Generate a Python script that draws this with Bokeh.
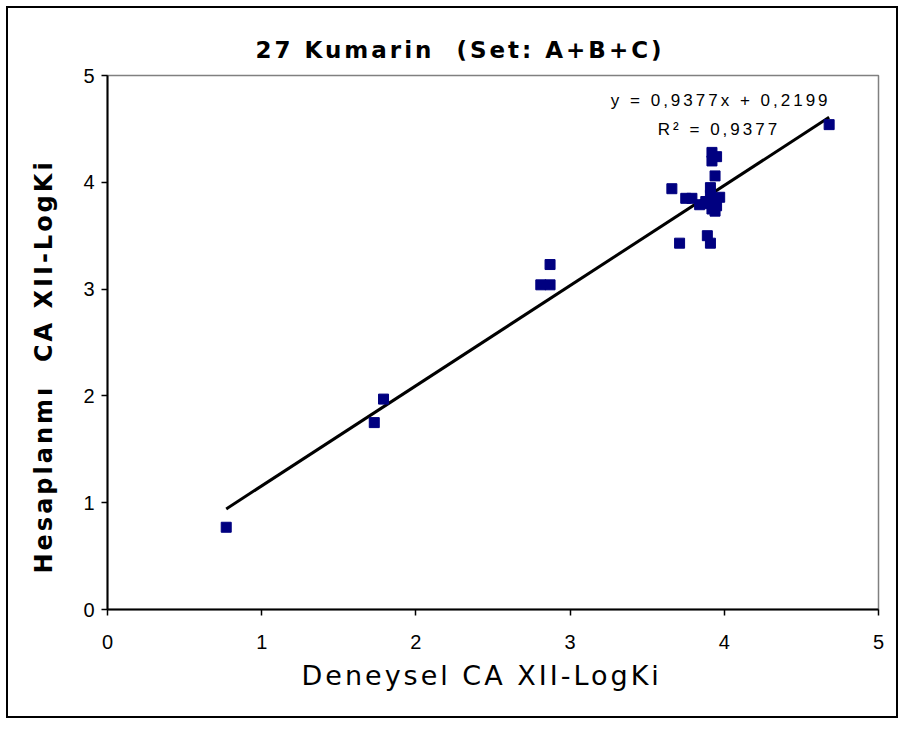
from bokeh.plotting import figure
from bokeh.models import Label, FixedTicker, Title
from bokeh.embed import file_html
from bokeh.resources import INLINE

exp_logki = [0.77, 1.73, 1.79, 2.81, 2.87, 2.87, 3.66, 3.71, 3.75, 3.79,
             3.84, 3.89, 3.91, 3.91, 3.91, 3.92, 3.94, 3.97, 3.94, 3.92,
             3.92, 3.95, 4.68, 3.90, 3.93, 3.88, 3.95]
calc_logki = [0.77, 1.75, 1.97, 3.04, 3.04, 3.23, 3.94, 3.43, 3.85, 3.85,
              3.79, 3.50, 3.43, 3.95, 3.88, 3.75, 3.73, 3.86, 4.06, 4.28,
              4.20, 4.24, 4.54, 3.80, 3.80, 3.82, 3.78]
slope = 0.9377
intercept = 0.2199
r_squared = 0.9377
ticks = [0, 1, 2, 3, 4, 5]

title_text = "27 Kumarin \u00a0(Set: A+B+C)"
x_label = "Deneysel CA XII-LogKi"
y_label = "Hesaplanmı \u00a0CA XII-LogKi"

FONT = "Liberation Sans"
LFONT = "DejaVu Sans"

p = figure(width=892, height=712, x_range=(0, 5), y_range=(0, 5),
           output_backend="svg", toolbar_location=None,
           min_border_left=98, min_border_right=22,
           min_border_top=67, min_border_bottom=111)
p.styles = {"border": "2px solid black", "margin": "6px", "letter-spacing": "3px"}
p.background_fill_color = "white"
p.border_fill_color = "white"
p.outline_line_color = "#808080"
p.outline_line_width = 1.5
p.grid.visible = False

p.title = Title(text=title_text, align="left", offset=148, standoff=26,
                text_font=LFONT, text_font_size="23px", text_font_style="bold",
                text_color="black")

for ax in (p.xaxis[0], p.yaxis[0]):
    ax.ticker = FixedTicker(ticks=ticks)
    ax.minor_tick_line_color = None
    ax.major_tick_out = 6
    ax.major_tick_in = 0
    ax.major_tick_line_color = "black"
    ax.major_tick_line_width = 1.5
    ax.axis_line_color = "black"
    ax.axis_line_width = 2
    ax.major_label_text_font = FONT
    ax.major_label_text_font_size = "20px"
    ax.major_label_text_color = "black"

p.xaxis[0].major_label_standoff = 19
p.yaxis[0].major_label_standoff = 7

# Axis titles (as side titles so that they can be anchored like the original)
p.add_layout(Title(text=x_label, align="left", offset=194, standoff=16,
                   vertical_align="top", text_font=LFONT, text_font_size="27px",
                   text_font_style="normal", text_color="black"), "below")
p.add_layout(Title(text=y_label, align="left", offset=36, standoff=42,
                   vertical_align="top", text_font=LFONT, text_font_size="24px",
                   text_font_style="bold", text_color="black"), "left")

# Regression line from the fitted equation
x0, x1 = min(exp_logki), max(exp_logki)
p.line([x0, x1], [slope * x0 + intercept, slope * x1 + intercept],
       line_color="black", line_width=3)

# Data points
p.scatter(exp_logki, calc_logki, marker="square", size=10,
          fill_color="#000080", line_color="#000080")

eq = "y = " + f"{slope:.4f}".replace(".", ",") + "x + " + f"{intercept:.4f}".replace(".", ",")
r2 = "R² = " + f"{r_squared:.4f}".replace(".", ",")
p.add_layout(Label(x=3.264, y=4.77, text=eq, text_align="left", text_baseline="middle",
                   text_font=FONT, text_font_size="17px", text_color="black"))
p.add_layout(Label(x=3.569, y=4.49, text=r2, text_align="left", text_baseline="middle",
                   text_font=FONT, text_font_size="17px", text_color="black"))

open("out.html", "w").write(file_html(p, INLINE))
